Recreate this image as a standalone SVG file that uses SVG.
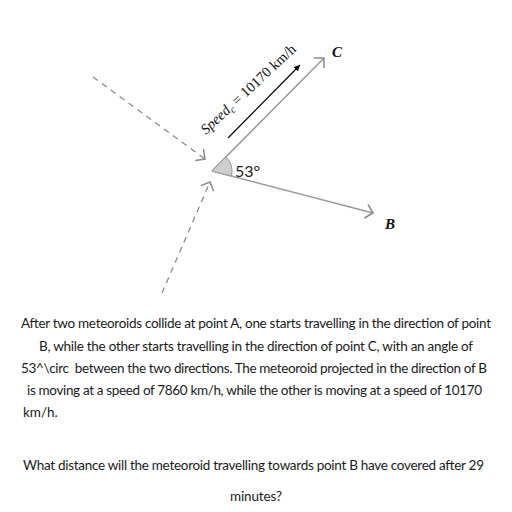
<svg xmlns="http://www.w3.org/2000/svg" width="512" height="512" viewBox="0 0 512 512">
<style>
.txt{font-family:"Lato","Noto Sans","Liberation Sans",sans-serif;font-size:13.5px;fill:#1a1a1a}
.lbl{font-family:"Liberation Serif","DejaVu Serif",serif;font-weight:bold;font-style:italic;font-size:15px;fill:#111}
.math{font-family:"Liberation Serif","DejaVu Serif",serif;font-style:italic;font-size:14.5px;fill:#111}
.solid{stroke:#9a9a9a;stroke-width:1.6;fill:none}
.dash{stroke:#8a8a8a;stroke-width:1.3;fill:none;stroke-dasharray:6 5}
</style>
<defs>
<marker id="chev" markerUnits="userSpaceOnUse" markerWidth="20" markerHeight="20" refX="10" refY="10" orient="auto" overflow="visible">
<path d="M3,3 L10,10 L3,17" fill="none" stroke="#8a8a8a" stroke-width="1.5"/>
</marker>
<marker id="blk" markerUnits="userSpaceOnUse" markerWidth="10" markerHeight="10" refX="6" refY="3" orient="auto">
<path d="M0,0 L6,3 L0,6 Z" fill="#000"/>
</marker>
</defs>
<rect width="512" height="512" fill="#fff"/>
<g id="connectors">
<line class="dash" x1="93" y1="77" x2="205" y2="159" marker-end="url(#chev)"/>
<line class="dash" x1="162" y1="293" x2="210" y2="182" marker-end="url(#chev)"/>
<line class="solid" x1="212" y1="171" x2="324" y2="58" marker-end="url(#chev)"/>
<line class="solid" x1="212" y1="171" x2="373" y2="213" stroke="#777" marker-end="url(#chev)"/>
<line x1="228" y1="138" x2="300" y2="65" stroke="#000" stroke-width="1.1" marker-end="url(#blk)"/>
</g>
<g id="angle">
<path d="M212,171 L226,157 A20,20 0 0 1 231.4,176 Z" fill="#cfcfcf" stroke="#999" stroke-width="1"/>
<text x="235" y="177" font-family="Lato,'Noto Sans',sans-serif" font-size="16" fill="#222">53°</text>
</g>
<g id="node-C"><text class="lbl" x="332" y="57">C</text></g>
<g id="node-B"><text class="lbl" x="385" y="229">B</text></g>
<g id="speed-label">
<text class="math" transform="translate(206,135) rotate(-43)">Speed<tspan font-size="10" dy="3">c</tspan><tspan dy="-3" font-style="normal"> = 10170 km/h</tspan></text>
</g>
<g id="problem-text">
<text class="txt" x="21" y="328" textLength="470">After two meteoroids collide at point A, one starts travelling in the direction of point</text>
<text class="txt" x="39" y="351" textLength="434">B, while the other starts travelling in the direction of point C, with an angle of</text>
<text class="txt" x="21" y="373" textLength="466" xml:space="preserve">53^\circ  between the two directions. The meteoroid projected in the direction of B</text>
<text class="txt" x="27" y="395" textLength="455">is moving at a speed of 7860 km/h, while the other is moving at a speed of 10170</text>
<text class="txt" x="23" y="417">km/h.</text>
<text class="txt" x="23" y="470" textLength="461">What distance will the meteoroid travelling towards point B have covered after 29</text>
<text class="txt" x="230" y="501" textLength="52">minutes?</text>
</g>
</svg>
